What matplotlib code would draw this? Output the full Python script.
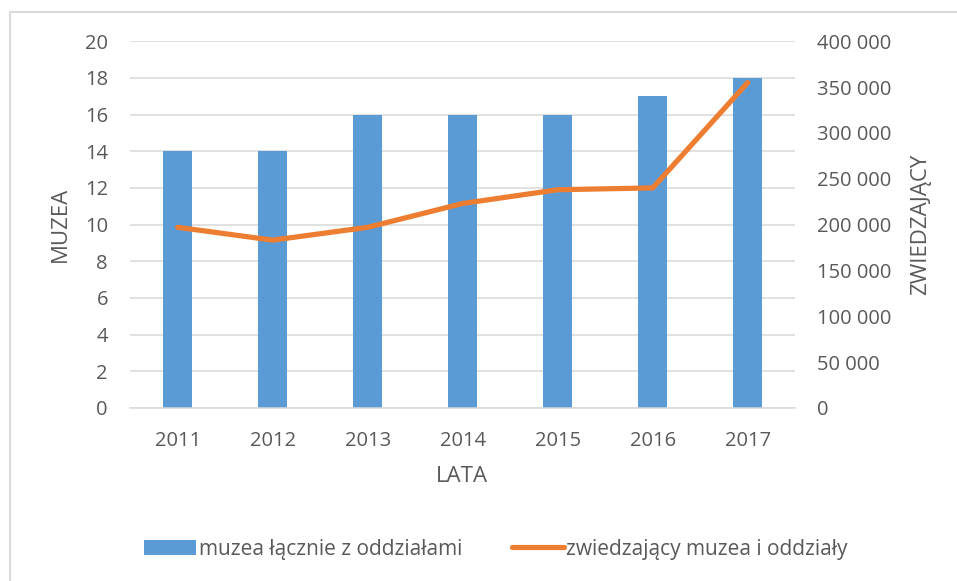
import matplotlib.pyplot as plt
import matplotlib.ticker as mticker
from matplotlib.patches import Rectangle

plt.rcParams['font.family'] = ['Open Sans', 'DejaVu Sans']

lata = ['2011', '2012', '2013', '2014', '2015', '2016', '2017']
muzea = [14, 14, 16, 16, 16, 17, 18]
zwiedzajacy = [197000, 183000, 197000, 223000, 238000, 240000, 355000]

szary = '#595959'
niebieski = '#5b9bd5'
pomaranczowy = '#ed7d31'

fig = plt.figure(figsize=(9.57, 5.81), dpi=100)
ax = fig.add_axes([0.136, 0.298, 0.695, 0.631])
ax2 = ax.twinx()

x = range(len(lata))
ax.bar(x, muzea, width=0.31, color=niebieski, zorder=2, label='muzea łącznie z oddziałami')
ax2.plot(x, zwiedzajacy, color=pomaranczowy, linewidth=3.75, solid_capstyle='round',
         label='zwiedzający muzea i oddziały')

ax.set_ylim(0, 20)
ax.set_yticks(range(0, 21, 2))
ax2.set_ylim(0, 400000)
ax2.set_yticks(range(0, 400001, 50000))
ax2.yaxis.set_major_formatter(mticker.FuncFormatter(lambda v, p: f'{int(v):,}'.replace(',', ' ')))
ax.set_xlim(-0.5, len(lata) - 0.5)
ax.set_xticks(list(x))
ax.set_xticklabels(lata)

ax.grid(axis='y', color='#d9d9d9', linewidth=1.1, zorder=0)
ax.set_axisbelow(True)
for a in (ax, ax2):
    for s in a.spines.values():
        s.set_visible(False)
    a.tick_params(length=0, labelsize=14.5, colors=szary, pad=16)
ax.spines['bottom'].set_visible(True)
ax.spines['bottom'].set_color('#d9d9d9')
ax.spines['bottom'].set_linewidth(1.1)
ax.tick_params(axis='x', pad=17)

# podpisy osi
fig.text(60 / 957, 1 - 224 / 581, 'MUZEA', rotation=90, ha='center', va='center',
         fontsize=16, color=szary)
fig.text(921 / 957, 1 - 224 / 581, 'ZWIEDZAJĄCY', rotation=90, ha='center', va='center',
         fontsize=16, color=szary)
fig.text(462 / 957, 1 - 477 / 581, 'LATA', ha='center', va='center',
         fontsize=16, color=szary)

h1, l1 = ax.get_legend_handles_labels()
h2, l2 = ax2.get_legend_handles_labels()
fig.legend(h1 + h2, l1 + l2, loc='center', bbox_to_anchor=(496 / 957, 0.055), ncol=2,
           frameon=False, fontsize=15, labelcolor=szary, handlelength=2.5,
           handleheight=0.7, handletextpad=0.1, columnspacing=2.4)

# ramka wykresu
fig.patches.append(Rectangle((0.0105, -0.05), 1.2, 1.029, transform=fig.transFigure,
                             fill=False, edgecolor='#d9d9d9', linewidth=1.5))

fig.savefig('out.png', dpi=100)
